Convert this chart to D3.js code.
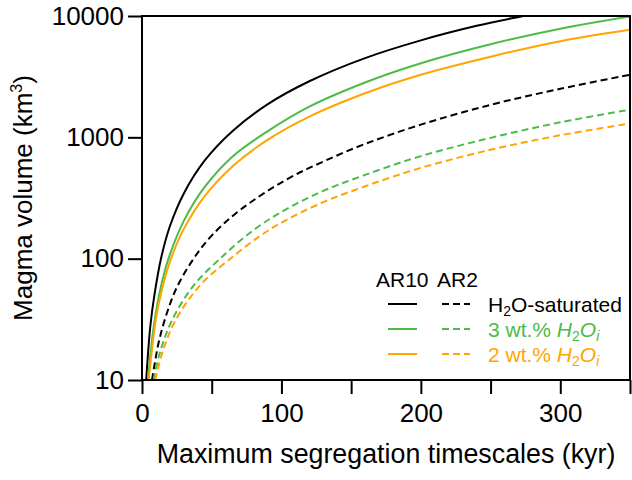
<!DOCTYPE html>
<html>
<head>
<meta charset="utf-8">
<script src="https://cdn.jsdelivr.net/npm/d3@7"></script>
<style>
  body { margin: 0; background: #fff; }
  svg { font-family: "Liberation Sans", Arial, sans-serif; }
</style>
</head>
<body>
<div id="chart"></div>
<script>
// kyr / km3
const tSatAR10 = [3, 6, 9, 13.6, 20, 30, 45, 65, 90, 120, 160, 200, 240, 275, 290];
const vSatAR10 = [10, 28, 51, 100, 185, 345, 645, 1130, 1870, 2900, 4500, 6300, 8300, 10100, 10990];
const tW3AR10 = [4.2, 8.5, 13, 19, 30, 45, 65, 90, 120, 160, 200, 250, 300, 350];
const vW3AR10 = [10, 28, 55, 100, 205, 390, 696, 1120, 1790, 2830, 4080, 5850, 7850, 9900];
const tW2AR10 = [4.8, 10, 14, 20.8, 30, 45, 65, 90, 120, 160, 200, 250, 300, 350];
const vW2AR10 = [10, 32, 54, 100, 176, 328, 578, 953, 1484, 2310, 3280, 4620, 6200, 7700];

const tSatAR2 = [7.2, 12, 18, 25, 37, 50, 70, 103, 130, 160, 200, 250, 300, 350];
const vSatAR2 = [10, 20.5, 36, 58, 100, 155, 250, 445, 631, 882, 1273, 1852, 2513, 3280];
const tW3AR2 = [8.3, 13, 21.5, 37, 56, 80, 103, 130, 160, 200, 250, 300, 350];
const vW3AR2 = [10, 17.1, 31, 60, 100, 172, 254, 362, 490, 700, 990, 1330, 1690];
const tW2AR2 = [9.5, 15, 24, 42, 63.4, 85, 103, 130, 160, 200, 250, 300, 350];
const vW2AR2 = [10, 17.4, 31, 61, 100, 155, 207, 292, 395, 560, 790, 1040, 1300];

const xTicks = [0, 50, 100, 150, 200, 250, 300, 350];
const xTickLabels = ["0", "", "100", "", "200", "", "300", ""];
const yTicks = [10, 100, 1000, 10000];
const yTickLabels = ["10", "100", "1000", "10000"];

const green = "#4dbb48", orange = "#ffa500";

const series = [
    { t: tSatAR10, v: vSatAR10, color: "#000", dashed: false },
    { t: tW3AR10, v: vW3AR10, color: green, dashed: false },
    { t: tW2AR10, v: vW2AR10, color: orange, dashed: false },
    { t: tSatAR2, v: vSatAR2, color: "#000", dashed: true },
    { t: tW3AR2, v: vW3AR2, color: green, dashed: true },
    { t: tW2AR2, v: vW2AR2, color: orange, dashed: true }
];

const margin = { top: 16, right: 2, bottom: 100, left: 142 },
      width = 632 - margin.left - margin.right,
      height = 480 - margin.top - margin.bottom;

const root = d3.select("#chart").append("svg")
    .attr("width", 632)
    .attr("height", 480);

const svg = root.append("g")
    .attr("transform", `translate(${margin.left},${margin.top})`);

const x = d3.scaleLinear().domain([0, 350]).range([0, width]);
const y = d3.scaleLog().domain([10, 10000]).range([height, 0]);

svg.append("clipPath").attr("id", "clip")
    .append("rect").attr("width", width).attr("height", height);

const line = d3.line()
    .x(d => x(d[0]))
    .y(d => y(d[1]))
    .curve(d3.curveCatmullRom.alpha(0.5));

svg.append("g").attr("clip-path", "url(#clip)")
    .selectAll("path")
    .data(series)
    .enter()
    .append("path")
    .attr("d", s => line(s.t.map((t, i) => [t, s.v[i]])))
    .style("fill", "none")
    .style("stroke", s => s.color)
    .style("stroke-width", 2)
    .style("stroke-dasharray", s => s.dashed ? "7,4" : null);

// axes
const xAxis = svg.append("g")
    .attr("transform", `translate(0,${height})`)
    .call(d3.axisBottom(x).tickValues(xTicks).tickSize(14).tickPadding(10)
        .tickFormat((d, i) => xTickLabels[i]));

const yAxis = svg.append("g")
    .call(d3.axisLeft(y).tickValues(yTicks).tickSize(14).tickPadding(4)
        .tickFormat((d, i) => yTickLabels[i]));

[xAxis, yAxis].forEach(a => {
    a.select(".domain").remove();
    a.selectAll("line").style("stroke", "#000").style("stroke-width", 2);
    a.selectAll("text")
        .style("font-family", "Liberation Sans, Arial, sans-serif")
        .style("font-size", "26px")
        .style("fill", "#000");
});

svg.append("rect")
    .attr("width", width)
    .attr("height", height)
    .style("fill", "none")
    .style("stroke", "#000")
    .style("stroke-width", 2);

// axis titles
svg.append("text")
    .attr("x", width / 2)
    .attr("y", height + 83)
    .attr("text-anchor", "middle")
    .style("font-size", "26.8px")
    .text("Maximum segregation timescales (kyr)");

const yt = svg.append("text")
    .attr("transform", `translate(${-110},${height / 2}) rotate(-90)`)
    .attr("text-anchor", "middle")
    .style("font-size", "26px");
yt.append("tspan").text("Magma volume (km");
yt.append("tspan").attr("dy", -10).style("font-size", "16px").text("3");
yt.append("tspan").attr("dy", 10).text(")");

// legend
const lg = svg.append("g").attr("transform", `translate(${376 - margin.left},${287 - margin.top})`);
lg.append("text").attr("x", 0).attr("y", 0).style("font-size", "21px").text("AR10");
lg.append("text").attr("x", 61).attr("y", 0).style("font-size", "21px").text("AR2");

const rows = [
    { color: "#000", sat: true, label: "" },
    { color: green, sat: false, label: "3 wt.% " },
    { color: orange, sat: false, label: "2 wt.% " }
];

rows.forEach((r, i) => {
    const yy = 17 + i * 25;
    lg.append("line").attr("x1", 12).attr("x2", 41).attr("y1", yy).attr("y2", yy)
        .style("stroke", r.color).style("stroke-width", 2);
    lg.append("line").attr("x1", 66).attr("x2", 94).attr("y1", yy).attr("y2", yy)
        .style("stroke", r.color).style("stroke-width", 2).style("stroke-dasharray", "7,4");
    const tx = lg.append("text").attr("x", 112).attr("y", yy + 8)
        .style("font-size", "21px").style("fill", r.color);
    if (r.sat) {
        tx.append("tspan").text("H");
        tx.append("tspan").attr("dy", 4).style("font-size", "14px").text("2");
        tx.append("tspan").attr("dy", -4).text("O-saturated");
    } else {
        tx.append("tspan").text(r.label);
        tx.append("tspan").style("font-style", "italic").text("H");
        tx.append("tspan").attr("dy", 4).style("font-size", "14px").text("2");
        tx.append("tspan").attr("dy", -4).style("font-style", "italic").text("O");
        tx.append("tspan").attr("dy", 4).style("font-size", "14px").style("font-style", "italic").text("i");
    }
});
</script>
</body>
</html>
